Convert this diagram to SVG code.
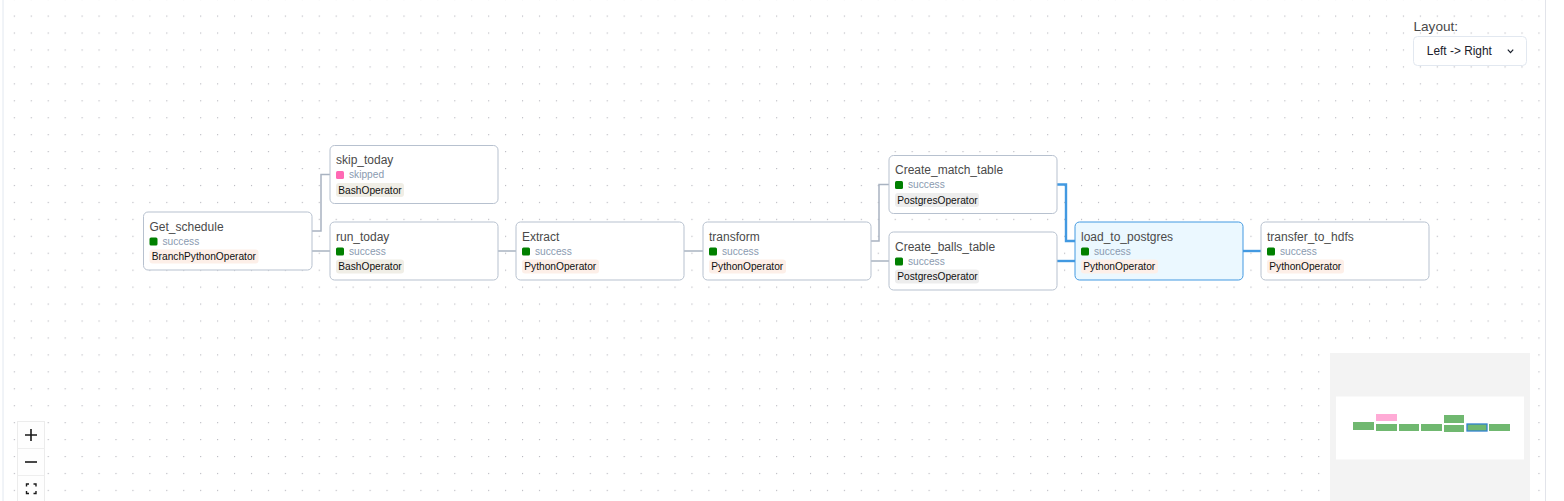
<svg xmlns="http://www.w3.org/2000/svg" width="1564" height="501" viewBox="0 0 1564 501">
<defs>
<pattern id="dots" x="13.8" y="-1.4" width="16.94" height="16.94" patternUnits="userSpaceOnUse">
<circle cx="0.6" cy="0.6" r="0.6" fill="#a8a8b0"/>
</pattern>
<style>
.node{fill:#ffffff;stroke:#b7c1cf;stroke-width:1}
.sel{fill:#ebf8ff;stroke:#4299e1;stroke-width:1}
.title{font-family:"Liberation Sans",Arial,sans-serif;font-size:12px;fill:#4a4a4a}
.state{font-family:"Liberation Sans",Arial,sans-serif;font-size:10.2px;fill:#8a9ab0}
.op{font-family:"Liberation Sans",Arial,sans-serif;font-size:10.2px;fill:#111111}
.ok{fill:#008000}
.skip{fill:#ff69b4}
.bash{fill:#f0eee6}
.py{fill:#fdefe8}
.pg{fill:#ededed}
.edge{fill:none;stroke:#a9b3c1;stroke-width:1.5}
.hl{fill:none;stroke:#4299e1;stroke-width:2.4}
.mini{fill:#70b870}
.ui{font-family:"Liberation Sans",Arial,sans-serif}
</style>
</defs>
<rect x="0" y="0" width="1564" height="501" fill="#ffffff"/>
<rect x="3" y="0" width="1542" height="501" fill="url(#dots)"/>
<line x1="3" y1="0" x2="3" y2="501" stroke="#e2e8f0" stroke-width="1"/>
<line x1="1545.5" y1="0" x2="1545.5" y2="501" stroke="#e2e4ea" stroke-width="1"/>

<g id="connectors">
<path class="edge" d="M312 231 H321 V174.5 H330"/>
<path class="edge" d="M312 251 H330"/>
<path class="edge" d="M498 251 H516"/>
<path class="edge" d="M684 251 H703"/>
<path class="edge" d="M871 241 H879 V184.5 H889"/>
<path class="edge" d="M871 261 H889"/>
<path class="hl" d="M1057 184.5 H1066 V241 H1075"/>
<path class="hl" d="M1057 261 H1075"/>
<path class="hl" d="M1243 251 H1261"/>
</g>

<g id="Get_schedule">
<rect class="node" x="143.5" y="212" width="168.5" height="58" rx="4.5"/>
<text class="title" x="149.5" y="230.5">Get_schedule</text>
<rect class="ok" x="149.5" y="237.5" width="8" height="8" rx="1.5"/>
<text class="state" x="162.5" y="244.5">success</text>
<rect class="py" x="149.5" y="249.5" width="109" height="14" rx="3"/>
<text class="op" x="151.8" y="260">BranchPythonOperator</text>
</g>

<g id="skip_today">
<rect class="node" x="330" y="145.5" width="168" height="58" rx="4.5"/>
<text class="title" x="336" y="164">skip_today</text>
<rect class="skip" x="336" y="171" width="8" height="8" rx="1.5"/>
<text class="state" x="349" y="178">skipped</text>
<rect class="bash" x="336" y="183" width="68" height="14" rx="3"/>
<text class="op" x="338.3" y="193.5">BashOperator</text>
</g>

<g id="run_today">
<rect class="node" x="330" y="222" width="168" height="58" rx="4.5"/>
<text class="title" x="336" y="240.5">run_today</text>
<rect class="ok" x="336" y="247.5" width="8" height="8" rx="1.5"/>
<text class="state" x="349" y="254.5">success</text>
<rect class="bash" x="336" y="259.5" width="68" height="14" rx="3"/>
<text class="op" x="338.3" y="270">BashOperator</text>
</g>

<g id="Extract">
<rect class="node" x="516" y="222" width="168" height="58" rx="4.5"/>
<text class="title" x="522" y="240.5">Extract</text>
<rect class="ok" x="522" y="247.5" width="8" height="8" rx="1.5"/>
<text class="state" x="535" y="254.5">success</text>
<rect class="py" x="522" y="259.5" width="77" height="14" rx="3"/>
<text class="op" x="524.3" y="270">PythonOperator</text>
</g>

<g id="transform">
<rect class="node" x="703" y="222" width="168" height="58" rx="4.5"/>
<text class="title" x="709" y="240.5">transform</text>
<rect class="ok" x="709" y="247.5" width="8" height="8" rx="1.5"/>
<text class="state" x="722" y="254.5">success</text>
<rect class="py" x="709" y="259.5" width="77" height="14" rx="3"/>
<text class="op" x="711.3" y="270">PythonOperator</text>
</g>

<g id="Create_match_table">
<rect class="node" x="889" y="155.5" width="168" height="58" rx="4.5"/>
<text class="title" x="895" y="174">Create_match_table</text>
<rect class="ok" x="895" y="181" width="8" height="8" rx="1.5"/>
<text class="state" x="908" y="188">success</text>
<rect class="pg" x="895" y="193" width="84" height="14" rx="3"/>
<text class="op" x="897.3" y="203.5">PostgresOperator</text>
</g>

<g id="Create_balls_table">
<rect class="node" x="889" y="232" width="168" height="58" rx="4.5"/>
<text class="title" x="895" y="250.5">Create_balls_table</text>
<rect class="ok" x="895" y="257.5" width="8" height="8" rx="1.5"/>
<text class="state" x="908" y="264.5">success</text>
<rect class="pg" x="895" y="269.5" width="84" height="14" rx="3"/>
<text class="op" x="897.3" y="280">PostgresOperator</text>
</g>

<g id="load_to_postgres">
<rect class="sel" x="1075" y="222" width="168" height="58" rx="4.5"/>
<text class="title" x="1081" y="240.5">load_to_postgres</text>
<rect class="ok" x="1081" y="247.5" width="8" height="8" rx="1.5"/>
<text class="state" x="1094" y="254.5">success</text>
<rect class="py" x="1081" y="259.5" width="77" height="14" rx="3"/>
<text class="op" x="1083.3" y="270">PythonOperator</text>
</g>

<g id="transfer_to_hdfs">
<rect class="node" x="1261" y="222" width="168" height="58" rx="4.5"/>
<text class="title" x="1267" y="240.5">transfer_to_hdfs</text>
<rect class="ok" x="1267" y="247.5" width="8" height="8" rx="1.5"/>
<text class="state" x="1280" y="254.5">success</text>
<rect class="py" x="1267" y="259.5" width="77" height="14" rx="3"/>
<text class="op" x="1269.3" y="270">PythonOperator</text>
</g>

<g id="layout">
<text class="ui" x="1413.5" y="31" font-size="13.6" fill="#4a4a4a">Layout:</text>
<rect x="1413.5" y="36.5" width="113" height="29" rx="4" fill="#ffffff" stroke="#e2e8f0" stroke-width="1"/>
<text class="ui" x="1426.8" y="55" font-size="11.9" fill="#1a202c">Left -&gt; Right</text>
<polyline points="1507.8,49.6 1510.5,52.6 1513.2,49.6" fill="none" stroke="#1a202c" stroke-width="1.2"/>
</g>

<g id="minimap">
<rect x="1330" y="353" width="200" height="148" fill="#f3f3f3"/>
<rect x="1336" y="396.5" width="188" height="63" fill="#ffffff"/>
<rect class="mini" x="1353" y="422" width="21" height="8"/>
<rect x="1376" y="414" width="21" height="7" fill="#ffabd6"/>
<rect class="mini" x="1376" y="424" width="21" height="7"/>
<rect class="mini" x="1399" y="424" width="20" height="7"/>
<rect class="mini" x="1421" y="424" width="21" height="7"/>
<rect class="mini" x="1444" y="415" width="20" height="8"/>
<rect class="mini" x="1444" y="425" width="20" height="7"/>
<rect class="mini" x="1467" y="424" width="20" height="7" stroke="#3182ce" stroke-width="1.3"/>
<rect class="mini" x="1489" y="424" width="21" height="7"/>
</g>

<g id="zoom-controls">
<rect x="17.5" y="421.5" width="27" height="81" fill="#fefefe" stroke="#ececec" stroke-width="1"/>
<line x1="17.5" y1="448.5" x2="44.5" y2="448.5" stroke="#eeeeee" stroke-width="1"/>
<line x1="17.5" y1="475.5" x2="44.5" y2="475.5" stroke="#eeeeee" stroke-width="1"/>
<path d="M25 435 H37 M31 429 V441" stroke="#1a1a1a" stroke-width="1.6" fill="none"/>
<path d="M25 462 H37" stroke="#1a1a1a" stroke-width="1.6" fill="none"/>
<path d="M26.5 486.5 V484 H29 M33.5 484 H36 V486.5 M36 491 V493.5 H33.5 M29 493.5 H26.5 V491" stroke="#1a1a1a" stroke-width="1.4" fill="none"/>
</g>
</svg>
